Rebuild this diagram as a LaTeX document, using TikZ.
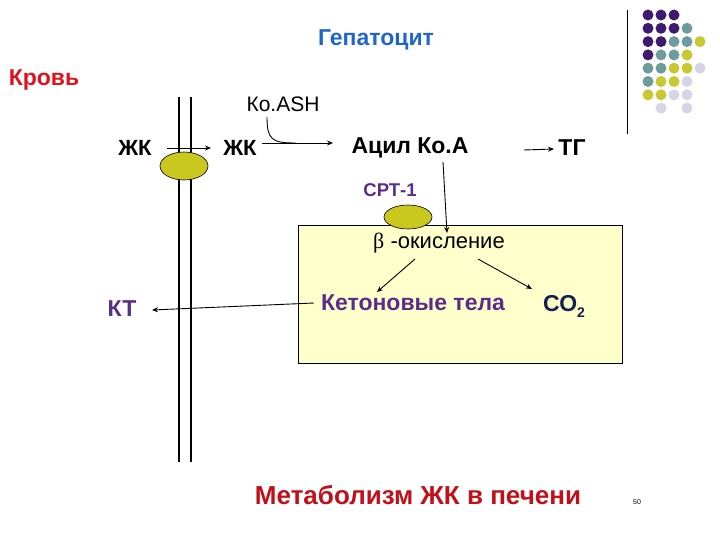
\documentclass[tikz,border=0pt]{standalone}
\usepackage{fontspec}
\setmainfont{Liberation Sans}
\newfontfamily\serifgr{Liberation Serif}
\usetikzlibrary{arrows.meta,shapes.geometric}
\definecolor{hepblue}{HTML}{1F66CC}
\definecolor{bloodred}{HTML}{E0101C}
\definecolor{ketpurple}{HTML}{5A2D8C}
\definecolor{conavy}{HTML}{14204F}
\definecolor{titlered}{HTML}{C0101A}
\definecolor{ovalyellow}{HTML}{C8C81E}
\definecolor{boxyellow}{HTML}{FFFFCC}
\definecolor{dotP}{HTML}{3D1A6E}
\definecolor{dotT}{HTML}{6E9C9C}
\definecolor{dotY}{HTML}{C8C832}
\definecolor{dotL}{HTML}{D5D5E5}
\tikzset{
  lbl/.style={inner sep=0pt, font=\fontsize{22}{24}\selectfont},
  blbl/.style={inner sep=0pt, font=\fontsize{23}{25}\selectfont\bfseries},
  arr/.style={-{Stealth[length=6pt,width=5pt]}, line width=0.9pt},
  oval/.style={ellipse, draw=black, line width=0.6pt, fill=ovalyellow, inner sep=0pt},
  dot/.style={circle, inner sep=0pt, minimum size=11pt}
}
\begin{document}
\begin{tikzpicture}[x=1pt,y=-1pt]
\useasboundingbox (0,0) rectangle (720,540);
% mitochondrion box
\node[draw=black, line width=0.6pt, fill=boxyellow, minimum width=324pt, minimum height=138pt, anchor=north west, inner sep=0pt] (mito) at (298,225) {};
% membrane double line
\coordinate (m1t) at (179,97); \coordinate (m1b) at (179,462);
\coordinate (m2t) at (191,97); \coordinate (m2b) at (191,462);
\draw[line width=1.5pt] (m1t) -- (m1b);
\draw[line width=1.5pt] (m2t) -- (m2b);
% texts
\node[blbl, text=hepblue] (hep) at (376,40) {Гепатоцит};
\node[blbl, text=bloodred] (blood) at (44,80) {Кровь};
\node[lbl, font=\fontsize{21}{23}\selectfont] (koash) at (283,104) {Ко.ASH};
\node[blbl, font=\fontsize{22}{24}\selectfont\bfseries] (fa1) at (135,148) {ЖК};
\node[blbl, font=\fontsize{22}{24}\selectfont\bfseries] (fa2) at (240,148) {ЖК};
\node[blbl] (acyl) at (410,148) {Ацил Ко.А};
\node[blbl] (tg) at (572,148) {ТГ};
\node[inner sep=0pt, font=\fontsize{18.5}{20}\selectfont\bfseries, text=ketpurple] (cpt) at (390,190) {СРТ-1};
\node[lbl] (beta) at (439,243) {{\serifgr β} -окисление};
\node[blbl, text=ketpurple] (ket) at (413,303) {Кетоновые тела};
\node[blbl, text=conavy, anchor=base west] (co2) at (543,311) {СО\raisebox{-0.28em}{\fontsize{14}{14}\selectfont 2}};
\node[blbl, text=ketpurple] (kt) at (122,309) {КТ};
\node[inner sep=0pt, font=\fontsize{26}{28}\selectfont\bfseries, text=titlered] (title) at (418,495) {Метаболизм ЖК в печени};
\node[inner sep=0pt, font=\fontsize{7}{8}\selectfont] (pg) at (637,502) {50};
% ovals
\node[oval, minimum width=48pt, minimum height=28pt] (tr1) at (184,166) {};
\node[oval, minimum width=48pt, minimum height=24pt] (tr2) at (408,217) {};
% arrows
\coordinate (fa1e) at (167,148);
\coordinate (fa2w) at (211,148);
\draw[arr] (fa1e) -- (fa2w);
\coordinate (fa2out) at (262,143);
\coordinate (acylin) at (333,143);
\draw[arr] (fa2out) -- (acylin);
\coordinate (koS) at (267,117);
\coordinate (koJ) at (296,143);
\draw[line width=0.9pt] (koS) .. controls (267,140) and (272,143) .. (koJ);
\coordinate (tgfrom) at (524,150);
\coordinate (tgin) at (554,149);
\draw[arr] (tgfrom) -- (tgin);
\coordinate (acylS) at (443,162);
\coordinate (betaN) at (447,233);
\draw[arr] (acylS) -- (betaN);
\coordinate (betaL) at (415,259);
\coordinate (betaR) at (478,259);
\coordinate (ketN) at (377,292);
\coordinate (co2N) at (532,289);
\draw[arr] (betaL) -- (ketN);
\draw[arr] (betaR) -- (co2N);
\coordinate (ktE) at (152,310);
\coordinate (ketW) at (314,303);
\draw[arr] (ketW) -- (ktE);
% decoration
\coordinate (decT) at (627,10); \coordinate (decB) at (627,134);
\draw[line width=1pt] (decT) -- (decB);
\foreach \c [count=\r from 0] in {{P,P,P,N,N},{P,P,P,T,N},{P,P,T,T,Y},{P,T,T,Y,N},{T,T,Y,Y,L},{T,Y,Y,L,N},{Y,Y,L,L,N},{N,L,N,L,N}}{
  \foreach \k [count=\i from 0] in \c {
    \if\k N\else
      \node[dot, fill=dot\k] (d\r\i) at (648+13*\i, 15+13.3*\r) {};
    \fi
  }
}
\end{tikzpicture}
\end{document}
